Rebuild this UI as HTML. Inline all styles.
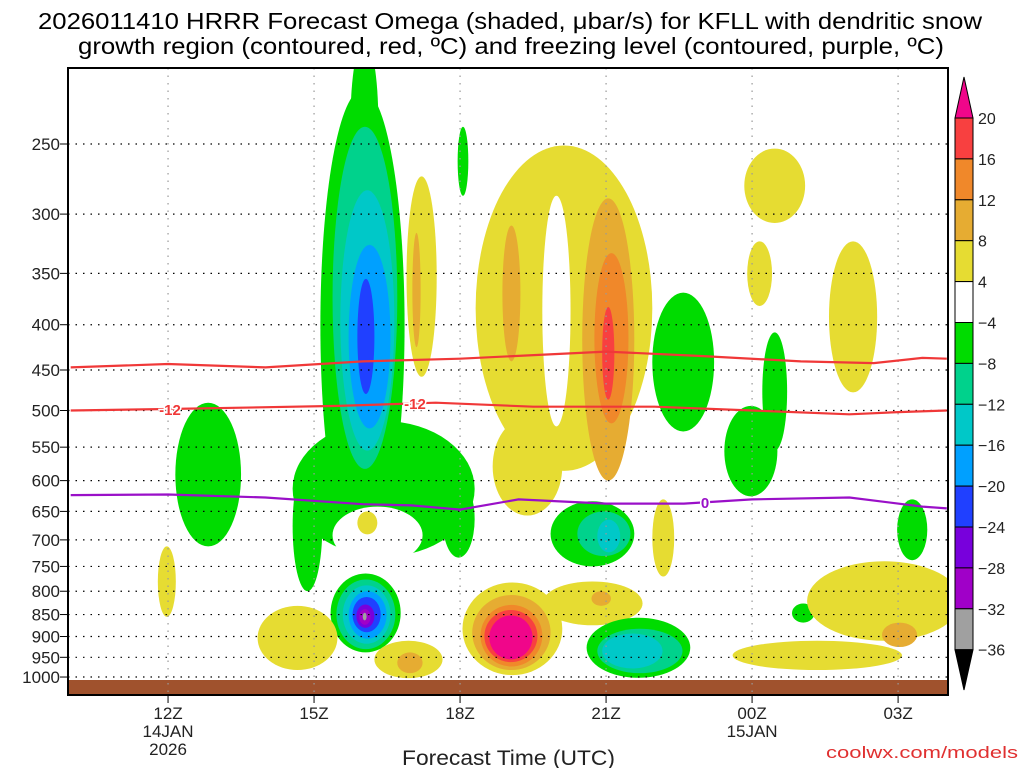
<!DOCTYPE html>
<html><head><meta charset="utf-8">
<style>
html,body{margin:0;padding:0;background:#fff;}
svg{display:block;font-family:"Liberation Sans",sans-serif;}
</style></head>
<body>
<svg id="chart" width="1024" height="768" viewBox="0 0 1024 768" xmlns="http://www.w3.org/2000/svg">
<text x="38" y="29" textLength="944" lengthAdjust="spacingAndGlyphs" font-size="23" fill="#000">2026011410 HRRR Forecast Omega (shaded, μbar/s) for KFLL with dendritic snow</text>
<text x="78" y="54" textLength="866" lengthAdjust="spacingAndGlyphs" font-size="23" fill="#000">growth region (contoured, red, ºC) and freezing level (contoured, purple, ºC)</text>
<defs><clipPath id="pc"><rect x="68" y="68" width="880" height="627"/></clipPath></defs>
<g id="shade" clip-path="url(#pc)"></g>
<rect x="68" y="680" width="880" height="15" fill="#a0522d"/>
<g id="grid"></g>
<g id="lines" clip-path="url(#pc)"></g>
<rect x="68" y="68" width="880" height="627" fill="none" stroke="#000" stroke-width="2"/>
<g id="axes"></g>
<g id="cbar"></g>
<text x="402" y="765" textLength="213" lengthAdjust="spacingAndGlyphs" font-size="21" fill="#222">Forecast Time (UTC)</text>
<text x="826" y="758" textLength="192" lengthAdjust="spacingAndGlyphs" font-size="17" fill="#e03030">coolwx.com/models</text>
</svg>
<script>
// ---- data ----
const pressureTicks=[250,300,350,400,450,500,550,600,650,700,750,800,850,900,950,1000];
const timeTickHours=[2,5,8,11,14,17];
const timeTickLabels=["12Z","15Z","18Z","21Z","00Z","03Z"];
const timeTickSub=[["14JAN","2026"],[],[],[],["15JAN"],[]];
const levelColors={"20":"#f0068a","16":"#f84040","12":"#f0882a","8":"#e6ac32","4":"#e6dc32","0":"#ffffff","-4":"#00dc00","-8":"#00d28c","-12":"#00c8c8","-16":"#00a0ff","-20":"#2040ff","-24":"#7800dc","-28":"#a000c8","-32":"#a0a0a0"};
// blobs: [tStartHour, tEndHour, pTop, pBottom, level]
const blobs=[
[4.56,8.30,514,731,-4],[4.56,5.17,571,800,-4],[7.64,8.30,600,733,-4],
[5.13,6.86,217,740,-4],[5.75,6.32,191,290,-4],
[5.38,7.23,642,745,0],
[5.38,6.71,239,582,-8],[5.54,6.65,282,555,-12],[5.71,6.57,325,524,-16],[5.89,6.24,355,479,-20],
[5.89,6.30,650,690,4],
[5.34,6.78,764,938,-4],[5.46,6.67,776,930,-8],[5.59,6.57,788,917,-12],[5.71,6.49,800,905,-16],[5.79,6.37,812,890,-20],[5.87,6.24,828,880,-24],[5.93,6.16,838,873,-28],[6.0,6.08,846,863,-32],
[6.24,7.64,910,1003,4],[6.71,7.23,938,990,8],
[3.84,5.48,831,982,4],
[6.90,7.52,272,458,4],[7.02,7.19,315,424,8],
[7.95,8.17,239,286,-4],
[8.32,11.95,251,585,4],[8.67,10.1,509,657,4],[9.69,10.27,286,521,0],
[8.87,9.24,309,440,8],
[10.51,11.58,288,600,8],[10.76,11.46,332,517,12],[10.92,11.17,382,486,16],
[11.95,13.22,368,528,-4],
[9.86,11.58,633,750,-4],[10.41,11.5,650,730,-8],[10.82,11.29,664,723,-12],
[11.95,12.4,630,770,4],
[9.69,11.75,780,874,4],[10.7,11.1,800,831,8],
[8.05,10.1,782,995,4],[8.25,9.86,808,982,8],[8.42,9.69,829,973,12],[8.5,9.59,840,962,16],[8.6,9.49,852,955,20],
[10.6,12.73,857,1002,-4],[10.82,12.57,882,990,-8],[10.92,12.16,893,978,-12],
[2.15,3.5,490,712,-4],
[1.79,2.16,712,855,4],
[13.43,14.52,494,625,-4],[14.21,14.72,408,555,-4],[14.82,15.28,826,868,-4],
[13.84,15.09,253,307,4],[13.9,14.41,322,381,4],[15.58,16.57,322,477,4],
[16.98,17.6,630,738,-4],
[15.13,18.3,740,910,4],[13.6,17.08,910,982,4],[16.67,17.39,868,925,8]
];
const contourHours=[0,2,4,6,8,11,13,15,16.5,17.5,18];
const red1Pressure=[447,443,447,440,437,429,434,440,442,436,437];
const redHours2=[0,2,5.5,7.5,9.5,12,14,16,17,18];
const red2Pressure=[500,498,494,490,495,495,500,505,502,500];
const purpleHours=[0,2,4,6,7,8,9.2,11,12.6,14,16,17.5,18];
const purplePressure=[623,622,627,638,640,647,630,637,637,630,627,642,645];
const cbarLevels=["20","16","12","8","4","-4","-8","-12","-16","-20","-24","-28","-32","-36"];
const cbarColors=["#f84040","#f0882a","#e6ac32","#e6dc32","#ffffff","#00dc00","#00d28c","#00c8c8","#00a0ff","#2040ff","#7800dc","#a000c8","#a0a0a0"];

// ---- axis functions ----
const X0=70.7,PX=48.67;
function xs(t){return X0+t*PX;}
function ys(p){return 144+384.5*Math.log(p/250);}
const NS="http://www.w3.org/2000/svg";
function mk(tag,attrs,parent){const e=document.createElementNS(NS,tag);for(const k in attrs)e.setAttribute(k,attrs[k]);parent.appendChild(e);return e;}

const shade=document.getElementById('shade');
blobs.forEach(b=>{
  const x1=xs(b[0]),x2=xs(b[1]),y1=ys(b[2]),y2=ys(b[3]);
  const e=mk('ellipse',{cx:(x1+x2)/2,cy:(y1+y2)/2,rx:(x2-x1)/2,ry:(y2-y1)/2,fill:levelColors[String(b[4])]},shade);
  
  
});

const grid=document.getElementById('grid');
const axes=document.getElementById('axes');
pressureTicks.forEach(p=>{
  const y=ys(p);
  const l=mk('line',{x1:68,x2:948,y1:y,y2:y,stroke:'#000','stroke-width':1.2,'stroke-dasharray':'1.5 6'},grid);
  
  
  const t=mk('line',{x1:60,x2:68,y1:y,y2:y,stroke:'#000','stroke-width':1},axes);
  
  
  const tx=mk('text',{x:60,y:y+6,'text-anchor':'end','font-size':17,fill:'#222'},axes);
  tx.textContent=p;
  
  
});
timeTickHours.forEach((h,i)=>{
  const x=xs(h);
  const l=mk('line',{x1:x,x2:x,y1:68,y2:695,stroke:'#999','stroke-width':1.2,'stroke-dasharray':'1.5 6'},grid);
  
  
  const t=mk('line',{x1:x,x2:x,y1:695,y2:703,stroke:'#000','stroke-width':1},axes);
  
  
  const tx=mk('text',{x:x,y:719,'text-anchor':'middle','font-size':17,fill:'#222'},axes);
  tx.textContent=timeTickLabels[i];
  
  
  timeTickSub[i].forEach((s,j)=>{
    const st=mk('text',{x:x,y:737+j*18,'text-anchor':'middle','font-size':17,fill:'#222'},axes);
    st.textContent=s;
    
    
  });
});

const lines=document.getElementById('lines');
function poly(hs,ps,color,name){
  const d=hs.map((h,i)=>(i?'L':'M')+xs(h).toFixed(1)+','+ys(ps[i]).toFixed(1)).join('');
  const e=mk('path',{d:d,fill:'none',stroke:color,'stroke-width':2.2},lines);
  
  
}
poly(contourHours,red1Pressure,'#f03838','dgz-upper-contour');
poly(redHours2,red2Pressure,'#f03838','dgz-lower-contour');
poly(purpleHours,purplePressure,'#9a10c8','freezing-level-contour');
function lbl(x,y,s,c,name){
  const t=mk('text',{x:x,y:y+6,'text-anchor':'middle','font-size':15,'font-weight':'bold',fill:c,stroke:'#fff','stroke-width':3,'paint-order':'stroke'},lines);
  t.textContent=s;
  
  
}
lbl(170,409,'-12','#f03838','contour-label');
lbl(415,403,'-12','#f03838','contour-label');
lbl(705,502,'0','#9a10c8','contour-label');

// colorbar
const cb=document.getElementById('cbar');
const cbX=955,cbW=18,cbTop=118,cbH=40.9;
const tri=mk('polygon',{points:`${cbX},${cbTop} ${cbX+cbW},${cbTop} ${cbX+cbW/2},77`,fill:'#f0068a',stroke:'#000','stroke-width':1},cb);


cbarColors.forEach((c,i)=>{
  const r=mk('rect',{x:cbX,y:cbTop+i*cbH,width:cbW,height:cbH,fill:c,stroke:'#000','stroke-width':1},cb);
  
  
});
const bot=cbTop+cbarColors.length*cbH;
const tri2=mk('polygon',{points:`${cbX},${bot} ${cbX+cbW},${bot} ${cbX+cbW/2},690`,fill:'#000',stroke:'#000','stroke-width':1},cb);


cbarLevels.forEach((s,i)=>{
  const t=mk('text',{x:978,y:cbTop+i*cbH+6,'font-size':16,fill:'#222'},cb);
  t.textContent=s.replace('-','\u2212');
  
  
});
</script>
</body></html>
